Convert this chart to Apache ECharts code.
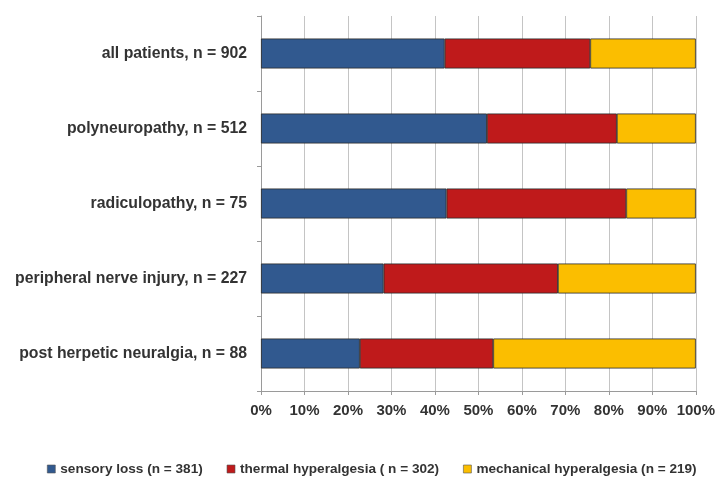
<!DOCTYPE html>
<html>
<head>
<meta charset="utf-8">
<script src="https://cdn.jsdelivr.net/npm/echarts@6/dist/echarts.min.js"></script>
<style>
  html, body { margin: 0; padding: 0; background: #fff; }
  #chart { width: 718px; height: 479px; }
</style>
</head>
<body>
<div id="chart"></div>
<script>
// 分类（从上到下）
const categories = [
  'all patients, n = 902',
  'polyneuropathy, n = 512',
  'radiculopathy, n = 75',
  'peripheral nerve injury, n = 227',
  'post herpetic neuralgia, n = 88'
]

// 各组病人数
const sensoryLoss = [381, 266, 32, 64, 20]
const thermalHyper = [302, 153, 31, 91, 27]
const mechanicalHyper = [219, 93, 12, 72, 41]

const seriesNames = [
  'sensory loss (n = 381)',
  'thermal hyperalgesia ( n = 302)',
  'mechanical hyperalgesia (n = 219)'
]

const xTicks = [0, 10, 20, 30, 40, 50, 60, 70, 80, 90, 100]

// 换算成百分比
const totals = categories.map((c, i) => sensoryLoss[i] + thermalHyper[i] + mechanicalHyper[i])
const toPct = arr => arr.map((v, i) => v / totals[i] * 100)

const colors = ['#31598f', '#bf1a1b', '#fbbe00']
const font = 'Liberation Sans, Arial, sans-serif'

const chart = echarts.init(document.getElementById('chart'))

const makeSeries = (name, values, idx) => ({
  name,
  type: 'bar',
  stack: 'total',
  barWidth: 30,
  data: toPct(values),
  itemStyle: {
    color: colors[idx],
    borderColor: '#2a2a2a',
    borderWidth: 0.8
  },
  emphasis: { disabled: true }
})

const option = {
  animation: false,
  grid: { left: 261, right: 20, top: 16, bottom: 88 },
  legend: {
    top: 457,
    left: 42,
    width: 670,
    icon: 'rect',
    itemWidth: 8,
    itemHeight: 8,
    itemGap: 24,
    textStyle: { fontFamily: font, fontSize: 13.6, fontWeight: 'bold', color: '#333' },
    itemStyle: { borderColor: '#555', borderWidth: 0.6 },
    data: seriesNames
  },
  xAxis: {
    type: 'value',
    min: xTicks[0],
    max: xTicks[xTicks.length - 1],
    interval: 10,
    axisLine: { show: true, lineStyle: { color: '#9a9a9a' } },
    axisTick: { show: true, length: 4, lineStyle: { color: '#9a9a9a' } },
    splitLine: { show: true, lineStyle: { color: '#c4c4c4' } },
    axisLabel: {
      formatter: '{value}%',
      fontFamily: font,
      fontSize: 15,
      fontWeight: 'bold',
      color: '#333',
      margin: 12
    }
  },
  yAxis: {
    type: 'category',
    inverse: true,
    data: categories,
    axisLine: { show: true, lineStyle: { color: '#9a9a9a' } },
    axisTick: { show: true, length: 4, lineStyle: { color: '#9a9a9a' } },
    axisLabel: {
      fontFamily: font,
      fontSize: 15.8,
      fontWeight: 'bold',
      color: '#333',
      margin: 14
    }
  },
  series: [
    makeSeries(seriesNames[0], sensoryLoss, 0),
    makeSeries(seriesNames[1], thermalHyper, 1),
    makeSeries(seriesNames[2], mechanicalHyper, 2)
  ]
}

chart.setOption(option)
</script>
</body>
</html>
